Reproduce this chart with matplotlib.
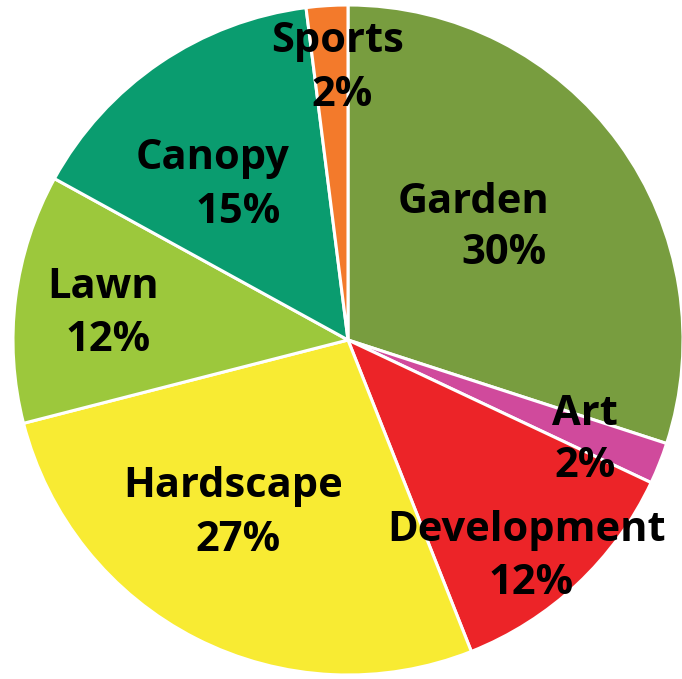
import numpy as np
import matplotlib.pyplot as plt

# land use shares, clockwise from 12 o'clock
categories = ["Garden", "Art", "Development", "Hardscape", "Lawn", "Canopy", "Sports"]
shares = [30, 2, 12, 27, 12, 15, 2]
colors = ["#789d3f", "#d04a9c", "#ec2428", "#f8eb33", "#9cc83c", "#0a9c6f", "#f37a2b"]

# label anchors (pie units, radius 1): name line and percent line
name_pos = [(0.374, 0.380), (0.707, -0.254), (0.533, -0.599), (-0.344, -0.470),
            (-0.731, 0.126), (-0.404, 0.509), (-0.030, 0.859)]
pct_pos = [(0.464, 0.228), (0.707, -0.410), (0.548, -0.757), (-0.329, -0.629),
           (-0.716, -0.033), (-0.329, 0.350), (-0.018, 0.698)]

W, H = 682, 679
cx, cy, r = 348, 339, 335

fig = plt.figure(figsize=(W / 100, H / 100), dpi=100)
ax = fig.add_axes([(cx - r) / W, (cy - r) / H, 2 * r / W, 2 * r / H])

ax.pie(shares, colors=colors, startangle=90, counterclock=False,
       wedgeprops=dict(edgecolor="white", linewidth=2.2))
ax.set_xlim(-1, 1)
ax.set_ylim(-1, 1)
ax.set_aspect("auto")
ax.axis("off")

font = dict(family="Open Sans", weight="bold", fontsize=30, ha="center", va="baseline")
for name, val, (nx, ny), (px, py) in zip(categories, shares, name_pos, pct_pos):
    ax.text(nx, ny, name, **font)
    ax.text(px, py, f"{val}%", **font)

fig.savefig("out.png", dpi=100)
